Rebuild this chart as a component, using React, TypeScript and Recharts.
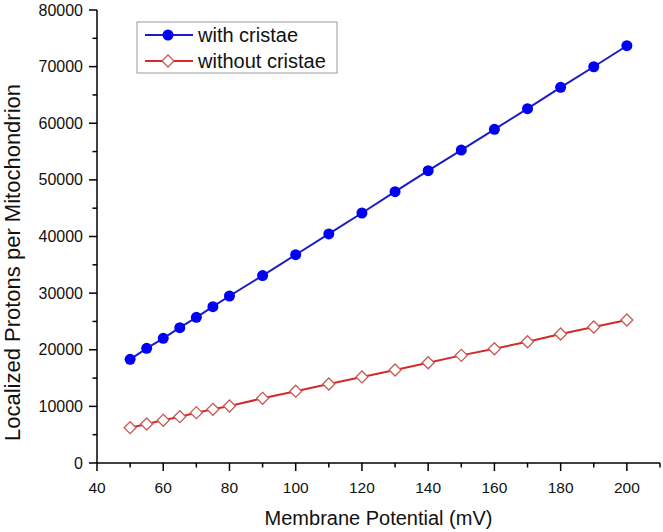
import React from "react";
import { LineChart, Line, XAxis, YAxis } from "recharts";

const potentials = [50, 55, 60, 65, 70, 75, 80, 90, 100, 110, 120, 130, 140, 150, 160, 170, 180, 190, 200];
const withCristae = [18310, 20250, 22020, 23900, 25720, 27600, 29490, 33100, 36780, 40450, 44150, 47910, 51620, 55270, 58920, 62570, 66340, 69980, 73690];
const withoutCristae = [6240, 6890, 7540, 8180, 8890, 9480, 10070, 11420, 12680, 13950, 15200, 16420, 17710, 19010, 20180, 21420, 22780, 24020, 25250];
const xTicks = [40, 50, 60, 70, 80, 90, 100, 110, 120, 130, 140, 150, 160, 170, 180, 190, 200, 210];
const yTicks = [0, 5000, 10000, 15000, 20000, 25000, 30000, 35000, 40000, 45000, 50000, 55000, 60000, 65000, 70000, 75000, 80000];

const seriesNames = ["with cristae", "without cristae"];
const xTitle = "Membrane Potential (mV)";
const yTitle = "Localized Protons per Mitochondrion";

const data = potentials.map((p, i) => ({ p, a: withCristae[i], b: withoutCristae[i] }));

const FONT = "'Liberation Sans', Arial, sans-serif";
const BLUE_LINE = "#1c1cc4";
const BLUE_DOT = "#0000f5";
const RED_LINE = "#d42a2a";
const RED_MARK = "#c85a55";

const XTick = (props: any) => {
  const { x, y, payload } = props;
  const v = payload.value;
  const major = v % 20 === 0;
  return (
    <g>
      <line x1={x} x2={x} y1={y} y2={y + (major ? 8 : 4.5)} stroke="#000" strokeWidth={1.5} />
      {major && v <= 200 && (
        <text x={x} y={y + 30} textAnchor="middle" fontSize={15.5} fontFamily={FONT} fill="#111">
          {v}
        </text>
      )}
    </g>
  );
};

const YTick = (props: any) => {
  const { x, y, payload } = props;
  const v = payload.value;
  const major = v % 10000 === 0;
  return (
    <g>
      <line x1={x} x2={x - (major ? 8 : 4.5)} y1={y} y2={y} stroke="#000" strokeWidth={1.5} />
      {major && (
        <text x={x - 14} y={y + 5.5} textAnchor="end" fontSize={16} fontFamily={FONT} fill="#111">
          {v}
        </text>
      )}
    </g>
  );
};

const Diamond = (props: any) => {
  const { cx, cy, index } = props;
  if (cx == null || cy == null) return <g key={index} />;
  const s = 6;
  return (
    <path
      key={index}
      d={`M${cx},${cy - s} L${cx + s},${cy} L${cx},${cy + s} L${cx - s},${cy} Z`}
      fill="#fff"
      stroke={RED_MARK}
      strokeWidth={1.3}
    />
  );
};

const YTitle = (props: any) => {
  const vb = props.viewBox || { x: 0, y: 10, width: 97, height: 453 };
  const cx = vb.x + 12;
  const cy = vb.y + vb.height / 2 + 26;
  return (
    <text
      x={cx}
      y={cy}
      transform={`rotate(-90 ${cx} ${cy})`}
      textAnchor="middle"
      dominantBaseline="central"
      fontSize={22}
      fontFamily={FONT}
      fill="#111"
    >
      {yTitle}
    </text>
  );
};

const LegendBox = () => (
  <svg width={202} height={53} style={{ position: "absolute", left: 136, top: 21 }}>
    <rect x={1} y={1} width={200} height={51} fill="#fff" stroke="#9a9a9a" strokeWidth={1} />
    <line x1={9} x2={57} y1={14} y2={14} stroke={BLUE_LINE} strokeWidth={2} />
    <circle cx={32} cy={14} r={5.5} fill={BLUE_DOT} />
    <text x={62} y={21} fontSize={20} fontFamily={FONT} fill="#111">{seriesNames[0]}</text>
    <line x1={9} x2={57} y1={40} y2={40} stroke={RED_LINE} strokeWidth={2} />
    <path d="M32,34 L38,40 L32,46 L26,40 Z" fill="#fff" stroke={RED_MARK} strokeWidth={1.3} />
    <text x={62} y={47} fontSize={20} fontFamily={FONT} fill="#111">{seriesNames[1]}</text>
  </svg>
);

export default function App() {
  return (
    <div style={{ position: "absolute", left: 0, top: 0, width: 663, height: 532, background: "#fff" }}>
      <LineChart width={663} height={532} data={data} margin={{ top: 10, right: 3, bottom: 0, left: 0 }}>
        <XAxis
          dataKey="p"
          type="number"
          domain={[40, 210]}
          ticks={xTicks}
          interval={0}
          height={69}
          tickSize={0}
          tickMargin={0}
          tickLine={false}
          tick={<XTick />}
          axisLine={{ stroke: "#000", strokeWidth: 1.5 }}
          label={{ value: xTitle, position: "insideBottom", offset: 7, fontSize: 20, fontFamily: FONT, fill: "#111" }}
        />
        <YAxis
          type="number"
          domain={[0, 80000]}
          ticks={yTicks}
          interval={0}
          width={97}
          tickSize={0}
          tickMargin={0}
          tickLine={false}
          tick={<YTick />}
          axisLine={{ stroke: "#000", strokeWidth: 1.5 }}
          label={<YTitle />}
        />
        <Line
          dataKey="a"
          type="linear"
          stroke={BLUE_LINE}
          strokeWidth={2}
          dot={{ r: 5.5, fill: BLUE_DOT, stroke: "none" }}
          activeDot={false}
          isAnimationActive={false}
        />
        <Line
          dataKey="b"
          type="linear"
          stroke={RED_LINE}
          strokeWidth={2}
          dot={<Diamond />}
          activeDot={false}
          isAnimationActive={false}
        />
      </LineChart>
      <LegendBox />
    </div>
  );
}
